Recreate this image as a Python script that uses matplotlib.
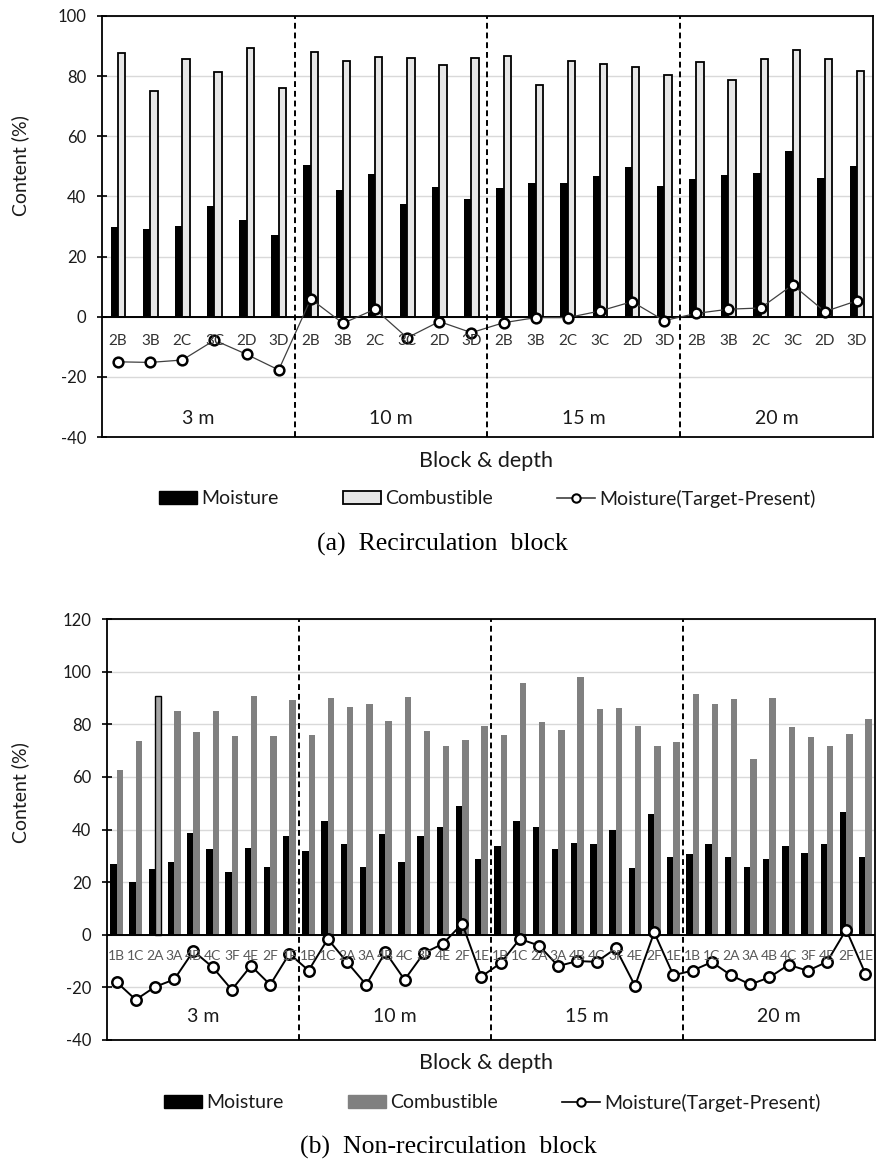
import matplotlib.pyplot as plt
import numpy as np
from matplotlib.patches import Patch
from matplotlib.lines import Line2D

plt.rcParams['font.family'] = ['Lato', 'DejaVu Sans']
plt.rcParams['axes.unicode_minus'] = False

W, H = 895, 1161

depths = ['3 m', '10 m', '15 m', '20 m']

# (a) recirculation block
rec_blocks = ['2B', '3B', '2C', '3C', '2D', '3D']
rec_moisture = [29.7, 29.3, 30.1, 36.8, 32.1, 27.2,
                50.4, 42.3, 47.4, 37.4, 43.0, 39.1,
                42.7, 44.5, 44.5, 46.7, 49.8, 43.5,
                45.7, 47.2, 47.7, 55.1, 46.2, 50.1]
rec_combustible = [87.8, 75.1, 85.6, 81.5, 89.3, 76.1,
                   88.0, 85.2, 86.3, 86.0, 83.7, 86.0,
                   86.6, 76.9, 85.2, 83.9, 82.9, 80.5,
                   84.6, 78.6, 85.6, 88.8, 85.6, 81.7]
rec_target = [-15.0, -15.2, -14.4, -7.8, -12.5, -17.7,
              5.9, -2.2, 2.5, -7.0, -1.6, -5.3,
              -2.0, -0.3, -0.3, 1.9, 5.0, -1.3,
              1.1, 2.5, 2.9, 10.6, 1.7, 5.3]

# (b) non-recirculation block
non_blocks = ['1B', '1C', '2A', '3A', '4B', '4C', '3F', '4E', '2F', '1E']
non_moisture = [26.9, 19.9, 25.0, 27.8, 38.7, 32.5, 23.9, 33.1, 25.8, 37.6,
                31.7, 43.4, 34.4, 25.8, 38.1, 27.7, 37.6, 41.1, 49.0, 28.9,
                33.9, 43.1, 40.9, 32.7, 35.0, 34.4, 39.8, 25.3, 45.9, 29.7,
                30.8, 34.4, 29.4, 25.8, 28.6, 33.6, 31.1, 34.4, 46.6, 29.7]
non_combustible = [62.6, 73.5, 90.9, 85.0, 77.2, 85.0, 75.5, 90.6, 75.5, 89.2,
                   76.0, 90.0, 86.4, 87.7, 81.1, 90.2, 77.4, 71.6, 74.1, 79.2,
                   75.8, 95.7, 80.7, 77.8, 97.8, 85.8, 86.0, 79.3, 71.8, 73.2,
                   91.4, 87.6, 89.7, 66.8, 90.0, 79.1, 75.0, 71.8, 76.3, 82.0]
non_target = [-18.0, -24.7, -19.8, -17.0, -6.2, -12.3, -20.9, -11.8, -19.0, -7.2,
              -13.6, -1.6, -10.4, -19.0, -6.6, -17.1, -7.0, -3.4, 4.2, -15.9,
              -10.8, -1.6, -4.1, -11.9, -10.0, -10.3, -5.2, -19.4, 0.9, -15.4,
              -13.6, -10.4, -15.4, -18.9, -16.2, -11.4, -13.7, -10.3, 1.9, -14.8]


def fx(px):
    return px / W


def fy(py):
    return 1 - py / H


def draw_panel(ax, blocks, moisture, combustible, target, ylim, width,
               comb_color, comb_edge, line_color, line_w, ms, lab_size, lab_color,
               group_y):
    n = len(moisture)
    nb = len(blocks)
    x = np.arange(n)
    ax.bar(x - width / 2, moisture, width, color='black', zorder=2)
    kw = dict(edgecolor='black', linewidth=1.3) if comb_edge else dict(linewidth=0)
    bars = ax.bar(x + width / 2, combustible, width, color=comb_color, zorder=2, **kw)
    ax.axhline(0, color='black', lw=1.4, zorder=3)
    ax.plot(x, target, color=line_color, lw=line_w, marker='o', ms=ms,
            mfc='white', mec='black', mew=1.8, zorder=4)
    for k in range(1, len(depths)):
        ax.axvline(k * nb - 0.5, color='black', ls=(0, (3, 2)), lw=1.4, zorder=5)
    for i in range(n):
        ax.text(i, -8, blocks[i % nb], ha='center', va='center',
                fontsize=lab_size, color=lab_color, zorder=6)
    for g, d in enumerate(depths):
        ax.text(g * nb + (nb - 1) / 2, group_y, d, ha='center', va='center',
                fontsize=14, color='#1a1a1a')
    ax.set_xlim(-0.5, n - 0.5)
    ax.set_ylim(*ylim)
    ax.set_xticks([])
    ax.set_yticks(np.arange(ylim[0], ylim[1] + 1, 20))
    ax.tick_params(axis='y', direction='inout', length=7, width=1.2, pad=8,
                   labelsize=12, colors='black', labelcolor='#1a1a1a')
    ax.yaxis.grid(True, color='#d9d9d9', lw=1)
    ax.set_axisbelow(True)
    for s in ax.spines.values():
        s.set_linewidth(1.3)
    return bars


def add_legend(fig, y, xs, comb_color, comb_edge, line_color):
    ckw = dict(edgecolor='black', linewidth=1.3) if comb_edge else dict(edgecolor=comb_color)
    handles = [
        Patch(facecolor='black', edgecolor='black'),
        Patch(facecolor=comb_color, **ckw),
        Line2D([], [], color=line_color, lw=1.2, marker='o', ms=6,
               mfc='white', mec='black', mew=1.5),
    ]
    labels = ['Moisture', 'Combustible', 'Moisture(Target-Present)']
    for xp, h, lab in zip(xs, handles, labels):
        fig.legend(handles=[h], labels=[lab], loc='center left',
                   bbox_to_anchor=(fx(xp), fy(y)), frameon=False, borderpad=0,
                   borderaxespad=0, handlelength=1.95, handleheight=0.62,
                   handletextpad=0.22, fontsize=14, labelcolor='#1a1a1a')


fig = plt.figure(figsize=(W / 100, H / 100), dpi=100)

ax1 = fig.add_axes([fx(102), fy(437), (873 - 102) / W, (437 - 16) / H])
draw_panel(ax1, rec_blocks, rec_moisture, rec_combustible, rec_target,
           (-40, 100), 0.23, '#e6e6e6', True, '#404040', 0.9, 7, 11, '#333333', -34)
fig.text(fx(20), fy(166), 'Content (%)', rotation=90, ha='center', va='center',
         fontsize=14, color='#1a1a1a')
fig.text(fx(486), fy(461), 'Block & depth', ha='center', va='center',
         fontsize=15.5, color='#1a1a1a')
add_legend(fig, 499, [159, 343, 557], '#e6e6e6', True, '#404040')
fig.text(fx(442), fy(544), '(a)  Recirculation  block', ha='center', va='center',
         family='Liberation Serif', fontsize=18.5)

ax2 = fig.add_axes([fx(107), fy(1040), (875 - 107) / W, (1040 - 619) / H])
bars = draw_panel(ax2, non_blocks, non_moisture, non_combustible, non_target,
                  (-40, 120), 0.33, '#808080', False, 'black', 1.4, 7.5, 10, '#595959', -31)
bars[2].set_facecolor('#a6a6a6')
bars[2].set_edgecolor('black')
bars[2].set_linewidth(1.0)
fig.text(fx(20), fy(793), 'Content (%)', rotation=90, ha='center', va='center',
         fontsize=14, color='#1a1a1a')
fig.text(fx(486), fy(1063), 'Block & depth', ha='center', va='center',
         fontsize=15.5, color='#1a1a1a')
add_legend(fig, 1103, [164, 348, 562], '#808080', False, 'black')
fig.text(fx(448), fy(1147), '(b)  Non-recirculation  block', ha='center', va='center',
         family='Liberation Serif', fontsize=18.5)

fig.savefig('out.png', dpi=100)
